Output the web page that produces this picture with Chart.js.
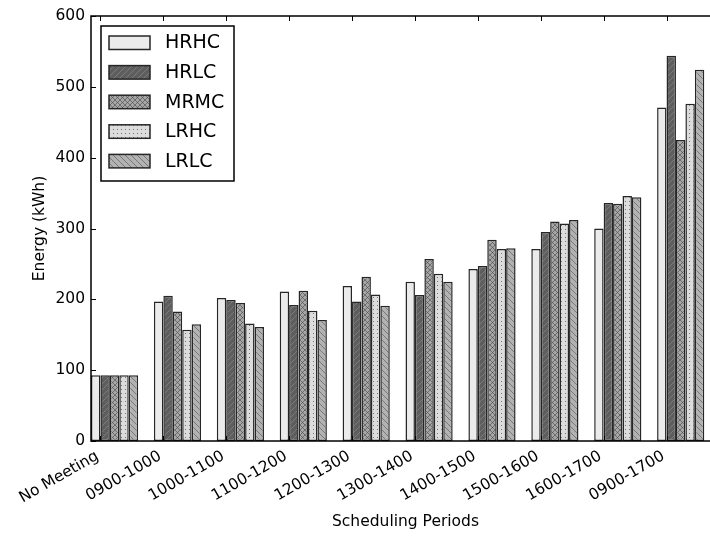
<!DOCTYPE html>
<html>
<head>
<meta charset="utf-8">
<script src="https://cdn.jsdelivr.net/npm/chart.js@4/dist/chart.umd.min.js"></script>
<style>
  html, body { margin: 0; padding: 0; background: #fff; overflow: hidden; }
  /* the original figure was cropped on the right: the axes run ~10px past the edge */
  #wrap { width: 710px; height: 536px; position: relative; overflow: hidden; }
</style>
</head>
<body>
<div id="wrap"><canvas id="energyChart" width="720" height="536"></canvas></div>
<script>
/* ---------- data (kWh) ---------- */
var periods = ['No Meeting', '0900-1000', '1000-1100', '1100-1200', '1200-1300',
               '1300-1400', '1400-1500', '1500-1600', '1600-1700', '0900-1700'];
var seriesNames = ['HRHC', 'HRLC', 'MRMC', 'LRHC', 'LRLC'];
var hrhc = [93, 197, 202, 211, 219, 225, 243, 271, 300, 471];
var hrlc = [93, 205, 199, 192, 197, 206, 247, 295, 336, 544];
var mrmc = [93, 183, 195, 212, 232, 257, 284, 310, 335, 425];
var lrhc = [93, 157, 166, 184, 207, 236, 271, 307, 346, 476];
var lrlc = [93, 165, 161, 171, 191, 225, 272, 312, 344, 524];
var yTicks = [0, 100, 200, 300, 400, 500, 600];

(function () {
  'use strict';

  var FONT = "'DejaVu Sans', sans-serif";
  var EDGE = '#262626';

  /* ---------- hatch fills, matplotlib-ish ---------- */
  function tile(size, bg, draw) {
    var c = document.createElement('canvas');
    c.width = size; c.height = size;
    var g = c.getContext('2d');
    g.fillStyle = bg;
    g.fillRect(0, 0, size, size);
    draw(g, size);
    return document.createElement('canvas').getContext('2d').createPattern(c, 'repeat');
  }
  function fwd(g, s) {
    g.beginPath();
    g.moveTo(0, s); g.lineTo(s, 0);
    g.moveTo(-1, 1); g.lineTo(1, -1);
    g.moveTo(s - 1, s + 1); g.lineTo(s + 1, s - 1);
    g.stroke();
  }
  function back(g, s) {
    g.beginPath();
    g.moveTo(0, 0); g.lineTo(s, s);
    g.moveTo(-1, s - 1); g.lineTo(1, s + 1);
    g.moveTo(s - 1, -1); g.lineTo(s + 1, 1);
    g.stroke();
  }
  var fills = [
    '#ebebeb',
    tile(6, '#5e5e5e', function (g, s) { g.strokeStyle = 'rgba(140,140,140,0.8)'; g.lineWidth = 0.8; fwd(g, s); }),
    tile(5, '#a6a6a6', function (g, s) { g.strokeStyle = 'rgba(70,70,70,0.75)'; g.lineWidth = 0.8; fwd(g, s); back(g, s); }),
    tile(4, '#dcdcdc', function (g) { g.fillStyle = 'rgba(90,90,90,0.8)'; g.fillRect(1, 1, 1, 1); }),
    tile(6, '#b2b2b2', function (g, s) { g.strokeStyle = 'rgba(80,80,80,0.75)'; g.lineWidth = 0.8; back(g, s); })
  ];

  var allSeries = [hrhc, hrlc, mrmc, lrhc, lrlc];
  var datasets = allSeries.map(function (vals, k) {
    return {
      label: seriesNames[k],
      data: vals.map(function (v, i) { return { x: i + 0.375, y: v }; }),
      backgroundColor: fills[k],
      borderColor: EDGE,
      borderWidth: 1.5,
      borderSkipped: false,
      categoryPercentage: 0.75,
      barPercentage: 1.0
    };
  });

  /* frame + inward tick marks on all four sides */
  var framePlugin = {
    id: 'frame',
    afterDatasetsDraw: function (chart) {
      var ctx = chart.ctx, a = chart.chartArea;
      var xs = chart.scales.x, ys = chart.scales.y;
      ctx.save();
      ctx.strokeStyle = '#000';
      ctx.lineWidth = 1;
      ctx.beginPath();
      xs.ticks.forEach(function (t, i) {
        var px = Math.round(xs.getPixelForTick(i)) + 0.5;
        ctx.moveTo(px, a.bottom); ctx.lineTo(px, a.bottom - 5);
        ctx.moveTo(px, a.top); ctx.lineTo(px, a.top + 5);
      });
      ys.ticks.forEach(function (t, i) {
        var py = Math.round(ys.getPixelForTick(i)) + 0.5;
        ctx.moveTo(a.left, py); ctx.lineTo(a.left + 5, py);
        ctx.moveTo(a.right, py); ctx.lineTo(a.right - 5, py);
      });
      ctx.stroke();
      ctx.lineWidth = 1.5;
      ctx.strokeRect(a.left, a.top, a.right - a.left, a.bottom - a.top);
      ctx.restore();
    }
  };

  /* legend box in the upper left, like the original */
  var legendPlugin = {
    id: 'boxLegend',
    afterDraw: function (chart) {
      var ctx = chart.ctx;
      var bx = 101, by = 26, bw = 133, bh = 155;
      ctx.save();
      ctx.fillStyle = '#fff';
      ctx.fillRect(bx, by, bw, bh);
      ctx.strokeStyle = '#000';
      ctx.lineWidth = 1.5;
      ctx.strokeRect(bx, by, bw, bh);
      ctx.font = '19px ' + FONT;
      ctx.textBaseline = 'middle';
      ctx.textAlign = 'left';
      chart.data.datasets.forEach(function (ds, k) {
        var sy = 36 + k * 29.6;
        ctx.fillStyle = ds.backgroundColor;
        ctx.fillRect(109, sy, 41, 13.5);
        ctx.strokeStyle = EDGE;
        ctx.lineWidth = 1.5;
        ctx.strokeRect(109, sy, 41, 13.5);
        ctx.fillStyle = '#000';
        ctx.fillText(ds.label, 165, sy + 7.5);
      });
      ctx.restore();
    }
  };

  new Chart(document.getElementById('energyChart'), {
    type: 'bar',
    data: { datasets: datasets },
    options: {
      responsive: false,
      animation: false,
      devicePixelRatio: 1,
      layout: { padding: { left: 0, top: 16, right: 0, bottom: 0 } },
      plugins: { legend: { display: false }, tooltip: { enabled: false } },
      scales: {
        x: {
          type: 'linear',
          min: 0, max: 10,
          offset: false,
          grid: { display: false, drawTicks: false },
          border: { display: false },
          afterBuildTicks: function (scale) {
            scale.ticks = periods.map(function (p, i) { return { value: i + 0.15 }; });
          },
          afterFit: function (scale) {
            scale.height = 95;
            scale.paddingLeft = 0;
            scale.paddingRight = 0;
          },
          ticks: {
            autoSkip: false,
            minRotation: 30, maxRotation: 30,
            padding: 6,
            labelOffset: -3,
            color: '#000',
            font: { family: FONT, size: 15.5 },
            callback: function (v, i) { return periods[i]; }
          },
          title: {
            display: true,
            text: 'Scheduling Periods',
            color: '#000',
            font: { family: FONT, size: 15.5 },
            padding: { top: 0, bottom: 5 }
          }
        },
        y: {
          min: 0, max: 600,
          grid: { display: false, drawTicks: false },
          border: { display: false },
          afterBuildTicks: function (scale) {
            scale.ticks = yTicks.map(function (v) { return { value: v }; });
          },
          afterFit: function (scale) {
            scale.width = 91;
            scale.paddingTop = 0;
            scale.paddingBottom = 0;
          },
          ticks: {
            padding: 6,
            color: '#000',
            font: { family: FONT, size: 15.5 }
          },
          title: {
            display: true,
            text: 'Energy (kWh)',
            color: '#000',
            font: { family: FONT, size: 15.5 },
            padding: { top: 31, bottom: 0 }
          }
        }
      }
    },
    plugins: [framePlugin, legendPlugin]
  });
})();
</script>
</body>
</html>
